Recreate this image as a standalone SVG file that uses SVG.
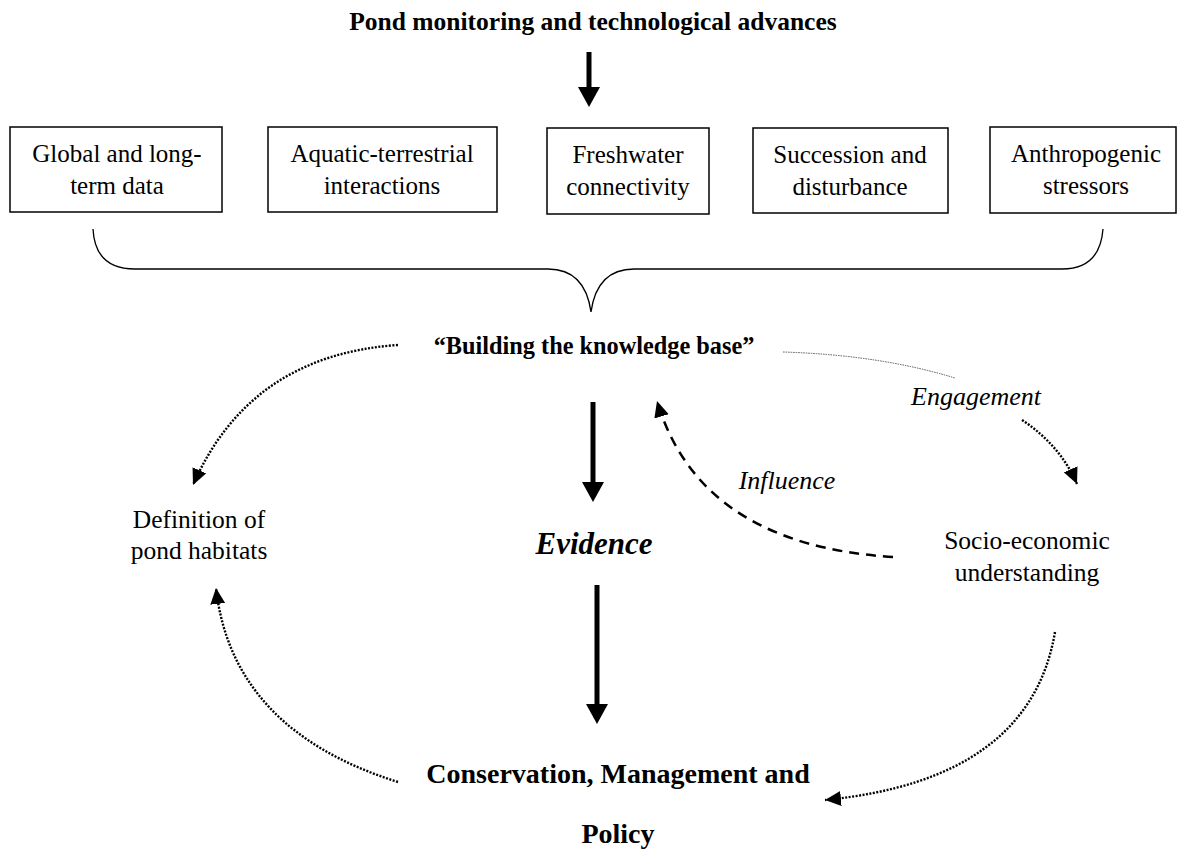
<svg xmlns="http://www.w3.org/2000/svg" width="1177" height="852" viewBox="0 0 1177 852">
<defs>
<style>
.t{font-family:"Liberation Serif","Times New Roman",serif;fill:#000;text-anchor:middle}
.box{fill:#fff;stroke:#000;stroke-width:1.5}
.bt{font-size:25px}
.lb{font-size:25.5px}
.bold{font-weight:bold}
.it{font-style:italic}
.thick{stroke:#000;stroke-width:5;fill:none}
.dot{stroke:#000;stroke-width:2.4;stroke-dasharray:2 1.5;fill:none}
.thin{stroke:#555;stroke-width:1;stroke-dasharray:1.5 1;fill:none}
.dash{stroke:#000;stroke-width:2.5;stroke-dasharray:10 7;fill:none}
</style>
<marker id="big" markerUnits="userSpaceOnUse" markerWidth="20" markerHeight="22" refX="0" refY="11" orient="auto" viewBox="0 0 20 22">
<path d="M0,0 L20,11 L0,22 z" fill="#000"/>
</marker>
<marker id="sm" markerUnits="userSpaceOnUse" markerWidth="16" markerHeight="15" refX="16" refY="7.5" orient="auto" viewBox="0 0 16 15">
<path d="M0,0 L16,7.5 L0,15 z" fill="#000"/>
</marker>
</defs>
<rect width="1177" height="852" fill="#fff"/>

<g id="title"><text class="t bold" x="593" y="30" font-size="25.5">Pond monitoring and technological advances</text></g>

<g id="box1"><rect class="box" x="10" y="127" width="212" height="85"/>
<text class="t bt" x="117" y="162">Global and long-</text><text class="t bt" x="117" y="194">term data</text></g>
<g id="box2"><rect class="box" x="268" y="127" width="229" height="85"/>
<text class="t bt" x="382" y="162">Aquatic-terrestrial</text><text class="t bt" x="382" y="194">interactions</text></g>
<g id="box3"><rect class="box" x="547" y="128" width="162" height="86"/>
<text class="t bt" x="628" y="163">Freshwater</text><text class="t bt" x="628" y="195">connectivity</text></g>
<g id="box4"><rect class="box" x="753" y="128" width="195" height="85"/>
<text class="t bt" x="850" y="163">Succession and</text><text class="t bt" x="850" y="195">disturbance</text></g>
<g id="box5"><rect class="box" x="990" y="127" width="186" height="86"/>
<text class="t bt" x="1086" y="162">Anthropogenic</text><text class="t bt" x="1086" y="194">stressors</text></g>

<g id="knowledge"><text class="t bold" x="594" y="354" font-size="24.3">“Building the knowledge base”</text></g>
<g id="definition"><text class="t lb" x="199" y="528">Definition of</text><text class="t lb" x="199" y="559">pond habitats</text></g>
<g id="evidence"><text class="t bold it" x="594" y="554" font-size="31">Evidence</text></g>
<g id="socio"><text class="t lb" x="1027" y="549">Socio-economic</text><text class="t lb" x="1027" y="581">understanding</text></g>
<g id="conservation"><text class="t bold" x="618" y="783" font-size="28">Conservation, Management and</text><text class="t bold" x="618" y="843" font-size="28">Policy</text></g>
<g id="labels"><text class="t it" x="976" y="405" font-size="26">Engagement</text><text class="t it" x="787" y="489" font-size="26">Influence</text></g>

<g id="connectors">
<path d="M93 229 Q95 269 135 269 L548 269 Q585 269 591 312 Q597 269 634 269 L1062 269 Q1100 269 1103 229" fill="none" stroke="#000" stroke-width="1.3"/>
<line class="thick" x1="589" y1="52" x2="589" y2="87" marker-end="url(#big)"/>
<line class="thick" x1="593" y1="402" x2="593" y2="482" marker-end="url(#big)"/>
<line class="thick" x1="597" y1="585" x2="597" y2="704" marker-end="url(#big)"/>
<path class="dot" d="M398 345 Q250 355 193 485" marker-end="url(#sm)"/>
<path class="dot" d="M398 782 Q232 730 216 588" marker-end="url(#sm)"/>
<path class="dot" d="M1055 632 Q1030 780 825 800" marker-end="url(#sm)"/>
<path class="thin" d="M783 352 Q880 355 955 378"/>
<path class="dot" d="M1022 420 Q1060 445 1077 484" marker-end="url(#sm)"/>
<path class="dash" d="M893 557 Q700 545 657 401" marker-end="url(#sm)"/>
</g>
</svg>
